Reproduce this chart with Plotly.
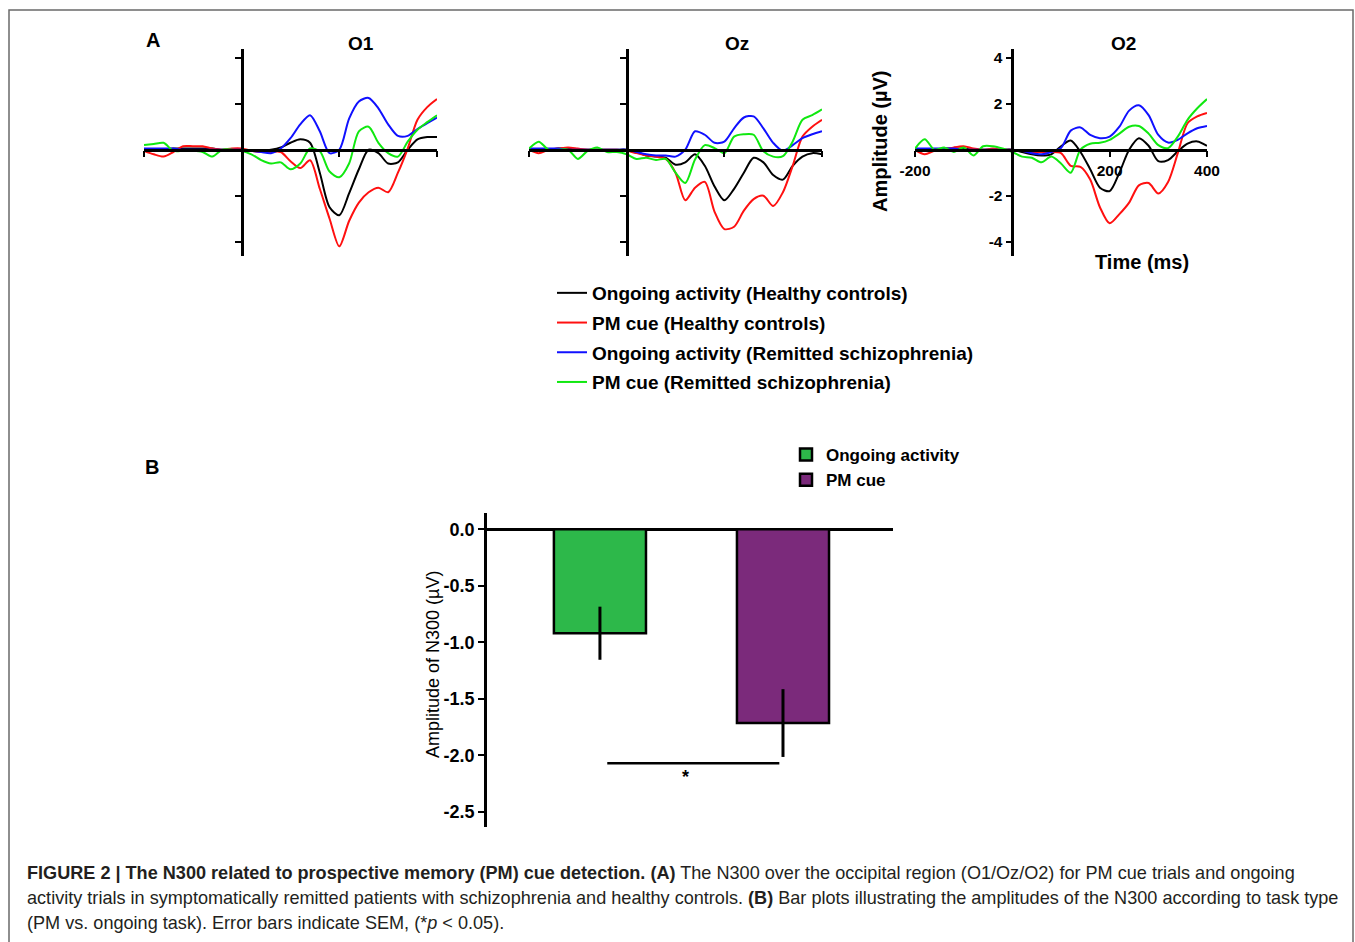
import plotly.graph_objects as go

W, H = 1355, 942

# ---------------- data ----------------
time_ms = [-200, -180, -160, -140, -120, -100, -80, -60, -40, -20, 0, 20, 40, 60, 80,
           100, 120, 140, 160, 180, 200, 220, 240, 260, 280, 300, 320, 340, 360, 380, 400]

o1_ongoing_hc = [-0.05, -0.05, 0.0, 0.05, 0.05, 0.05, 0.05, 0.05, 0.0, 0.0, 0.0, -0.05, -0.05, 0.0, 0.1,
                 0.3, 0.45, 0.3, -1.0, -2.5, -2.85, -1.9, -0.85, 0.0, -0.15, -0.6, -0.55, 0.0, 0.45, 0.55, 0.55]
o1_pm_hc = [-0.05, -0.2, -0.3, -0.1, 0.15, 0.15, 0.15, 0.05, 0.0, 0.05, 0.05, -0.05, -0.1, -0.1, -0.1,
            -0.5, -0.8, -0.46, -1.7, -3.0, -4.2, -3.1, -2.3, -1.85, -1.65, -1.85, -1.0, 0.05, 1.3, 1.85, 2.2]
o1_ongoing_sz = [0.05, 0.05, 0.05, 0.05, 0.0, 0.0, 0.0, 0.0, 0.0, 0.0, 0.0, -0.05, -0.1, -0.15, 0.05,
                 0.5, 1.1, 1.5, 0.8, -0.15, 0.0, 1.35, 2.1, 2.25, 1.8, 1.1, 0.6, 0.6, 0.9, 1.15, 1.4]
o1_pm_sz = [0.2, 0.25, 0.3, -0.05, -0.05, -0.05, -0.1, -0.3, 0.0, 0.0, -0.05, -0.2, -0.45, -0.6, -0.55,
            -0.85, -0.6, 0.05, -0.07, -0.95, -1.2, -0.6, 0.8, 1.0, 0.3, -0.15, -0.3, 0.35, 0.87, 1.2, 1.5]

oz_ongoing_hc = [0.0, 0.0, 0.0, 0.05, 0.05, 0.0, 0.0, 0.0, 0.0, 0.0, 0.0, -0.1, -0.25, -0.3, -0.35,
                 -0.65, -0.55, -0.2, -0.7, -1.6, -2.2, -1.7, -1.0, -0.35, -0.55, -1.1, -1.3, -0.7, -0.3, -0.15, -0.2]
oz_pm_hc = [0.0, -0.15, 0.0, 0.05, 0.1, 0.05, 0.0, 0.0, 0.0, 0.0, -0.05, -0.15, -0.25, -0.3, -0.4,
            -1.0, -2.2, -1.65, -1.4, -2.7, -3.45, -3.35, -2.65, -2.15, -2.0, -2.45, -1.85, -0.7, 0.57, 1.0, 1.3]
oz_ongoing_sz = [0.05, 0.05, 0.05, 0.05, 0.0, 0.0, 0.0, 0.0, 0.0, 0.0, 0.0, -0.1, -0.2, -0.25, -0.25,
                 -0.3, 0.0, 0.8, 0.65, 0.3, 0.35, 0.93, 1.4, 1.45, 0.93, 0.3, -0.05, 0.2, 0.5, 0.67, 0.8]
oz_pm_sz = [0.05, 0.35, 0.0, 0.0, 0.0, -0.4, -0.05, 0.1, -0.1, -0.1, -0.2, -0.4, -0.35, -0.45, -0.4,
            -1.0, -1.45, -0.43, 0.2, 0.07, -0.15, 0.57, 0.67, 0.65, -0.07, -0.3, -0.28, 0.36, 1.3, 1.5, 1.75]

o2_ongoing_hc = [0.05, 0.0, 0.0, 0.05, 0.05, 0.05, 0.0, 0.0, 0.0, 0.0, 0.0, -0.1, -0.2, -0.25, -0.2,
                 0.15, 0.4, -0.1, -0.85, -1.65, -1.8, -1.0, 0.0, 0.5, 0.17, -0.5, -0.45, -0.07, 0.26, 0.36, 0.17]
o2_pm_hc = [0.0, -0.2, -0.05, 0.0, 0.1, 0.15, 0.05, 0.0, 0.05, 0.0, 0.0, -0.05, -0.1, -0.1, -0.1,
            -0.15, -0.7, -0.75, -1.3, -2.5, -3.2, -2.8, -2.3, -1.55, -1.45, -1.9, -1.4, -0.15, 1.15, 1.45, 1.6]
o2_ongoing_sz = [0.05, 0.05, 0.05, 0.05, 0.05, 0.0, 0.0, 0.0, 0.0, 0.0, 0.0, -0.05, -0.15, -0.2, -0.1,
                 0.07, 0.83, 0.97, 0.64, 0.5, 0.57, 1.0, 1.7, 1.93, 1.5, 0.64, 0.31, 0.43, 0.71, 0.93, 1.03]
o2_pm_sz = [0.05, 0.45, 0.0, 0.1, -0.1, 0.1, -0.25, 0.15, 0.15, 0.05, -0.1, -0.3, -0.35, -0.55, -0.3,
            -0.6, -1.0, 0.0, 0.26, 0.3, 0.43, 0.7, 1.0, 1.03, 0.7, 0.2, 0.07, 0.57, 1.3, 1.8, 2.2]

electrodes = ["O1", "Oz", "O2"]
series_names = ["Ongoing activity (Healthy controls)", "PM cue (Healthy controls)",
                "Ongoing activity (Remitted schizophrenia)", "PM cue (Remitted schizophrenia)"]
series_colors = ["#000000", "#ff1010", "#1010ff", "#10e810"]
erp_data = {
    "O1": [o1_ongoing_hc, o1_pm_hc, o1_ongoing_sz, o1_pm_sz],
    "Oz": [oz_ongoing_hc, oz_pm_hc, oz_ongoing_sz, oz_pm_sz],
    "O2": [o2_ongoing_hc, o2_pm_hc, o2_ongoing_sz, o2_pm_sz],
}
time_ticks = [-200, 200, 400]
amp_ticks = [-4, -2, 2, 4]

conditions = ["Ongoing activity", "PM cue"]
n300_mean = [-0.92, -1.715]
n300_sem = [0.235, 0.30]
bar_colors = ["#2db84a", "#7b2a7b"]
bar_ticks = [0.0, -0.5, -1.0, -1.5, -2.0, -2.5]
sig_x = [0.04, 0.98]
sig_y = -2.07

caption_lines = [
    "<b>FIGURE 2 | The N300 related to prospective memory (PM) cue detection. (A)</b> The N300 over the occipital region (O1/Oz/O2) for PM cue trials and ongoing",
    "activity trials in symptomatically remitted patients with schizophrenia and healthy controls. <b>(B)</b> Bar plots illustrating the amplitudes of the N300 according to task type",
    "(PM vs. ongoing task). Error bars indicate SEM, (*<i>p</i> &lt; 0.05).",
]

# ---------------- layout helpers ----------------
FONT = "Liberation Sans, Arial, sans-serif"


def px(x):
    return x / W


def py(y):
    return 1 - y / H


erp_x_px = [(144, 437), (529, 822), (915, 1207)]
erp_y_px = (48.5, 255.5)
time_range = [-200, 400]
amp_range = [-4.6, 4.4]

fig = go.Figure()
layout = dict(
    width=W, height=H, margin=dict(l=0, r=0, t=0, b=0, autoexpand=False),
    paper_bgcolor="white", plot_bgcolor="rgba(0,0,0,0)",
    font=dict(family=FONT, color="black"),
    barmode="overlay",
    showlegend=True,
)

yd0, yd1 = py(erp_y_px[1]), py(erp_y_px[0])
for i, el in enumerate(electrodes):
    k = "" if i == 0 else str(i + 1)
    xd0, xd1 = px(erp_x_px[i][0]), px(erp_x_px[i][1])
    zero_y = yd0 + (0 - amp_range[0]) / (amp_range[1] - amp_range[0]) * (yd1 - yd0)
    zero_x = xd0 + (0 - time_range[0]) / (time_range[1] - time_range[0]) * (xd1 - xd0)
    labels = (i == 2)
    layout["xaxis" + k] = dict(
        domain=[xd0, xd1], range=time_range, anchor="free", position=zero_y,
        showline=True, linecolor="black", linewidth=2.5, ticks="outside", ticklen=6,
        tickwidth=2, tickcolor="black", tickvals=time_ticks, ticktext=[str(v) for v in time_ticks],
        showticklabels=labels, tickfont=dict(size=15.5, weight="bold"),
        showgrid=False, zeroline=False, fixedrange=True, automargin=False,
    )
    layout["yaxis" + k] = dict(
        domain=[yd0, yd1], range=amp_range, anchor="free", position=zero_x,
        showline=True, linecolor="black", linewidth=2.5, ticks="outside", ticklen=6,
        tickwidth=2, tickcolor="black", tickvals=amp_ticks, ticktext=[str(v) for v in amp_ticks],
        showticklabels=labels, tickfont=dict(size=15.5, weight="bold"),
        showgrid=False, zeroline=False, fixedrange=True, automargin=False,
    )
    for j, name in enumerate(series_names):
        fig.add_trace(go.Scatter(
            x=time_ms, y=erp_data[el][j], mode="lines", name=name,
            line=dict(color=series_colors[j], width=2, shape="spline", smoothing=0.8),
            xaxis="x" + k, yaxis="y" + k, legendgroup=name, showlegend=(i == 0),
            legend="legend", hoverinfo="skip",
        ))

# bar chart axes
bar_x_range = [-0.617, 1.601]
bar_y_range = [-2.635, 0.144]
layout["xaxis4"] = dict(domain=[px(487), px(893)], range=bar_x_range, anchor="y4",
                        visible=False, fixedrange=True)
layout["yaxis4"] = dict(
    domain=[py(827), py(513)], range=bar_y_range, anchor="x4",
    showline=True, linecolor="black", linewidth=2.5, ticks="outside", ticklen=6,
    tickwidth=2, tickcolor="black", tickvals=bar_ticks, ticktext=[f"{v:.1f}" for v in bar_ticks],
    tickfont=dict(size=18, weight="bold"), showgrid=False,
    zeroline=True, zerolinecolor="black", zerolinewidth=2.5, fixedrange=True, automargin=False,
)
for c, cond in enumerate(conditions):
    fig.add_trace(go.Bar(
        x=[c], y=[n300_mean[c]], width=0.503, name=cond,
        marker=dict(color=bar_colors[c], line=dict(color="black", width=2.5)),
        error_y=dict(type="data", array=[n300_sem[c]], width=0, thickness=3, color="black"),
        xaxis="x4", yaxis="y4", legend="legend2", hoverinfo="skip",
    ))
fig.add_trace(go.Scatter(
    x=sig_x, y=[sig_y, sig_y], mode="lines", line=dict(color="black", width=2.5),
    xaxis="x4", yaxis="y4", showlegend=False, hoverinfo="skip",
))

layout["legend"] = dict(
    x=px(552), y=py(274), xanchor="left", yanchor="top",
    font=dict(size=19, weight="bold", family=FONT), bgcolor="rgba(0,0,0,0)",
    traceorder="grouped", tracegroupgap=2, itemwidth=30,
)
layout["legend2"] = dict(
    x=px(786), y=py(437), xanchor="left", yanchor="top",
    font=dict(size=17, weight="bold", family=FONT), bgcolor="rgba(0,0,0,0)",
    tracegroupgap=0, itemwidth=30,
)

annotations = []


def ann(text, x, y, size, bold=True, angle=0, xanchor="center", **kw):
    d = dict(text=text, x=px(x), y=py(y), xref="paper", yref="paper", showarrow=False,
             xanchor=xanchor, yanchor="middle", textangle=angle,
             font=dict(size=size, family=FONT, color=kw.pop("color", "black"),
                       weight="bold" if bold else "normal"))
    d.update(kw)
    annotations.append(d)


ann("A", 153, 40, 20)
ann("B", 152, 467, 20)
for el, xc in zip(electrodes, [361, 737, 1123]):
    ann(el, xc, 44, 19)
ann("Amplitude (µV)", 880, 141, 20, angle=-90)
ann("Time (ms)", 1142, 262, 20)
ann("Amplitude of N300 (µV)", 433, 665, 18, bold=False, angle=-90)
annotations.append(dict(text="<b>*</b>", x=0.47, y=-2.19, xref="x4", yref="y4", showarrow=False,
                        font=dict(size=18, family=FONT, color="black")))
for n, line in enumerate(caption_lines):
    ann(line, 25, 873 + 25 * n, 18.1, bold=False, xanchor="left", color="#231f20")
layout["annotations"] = annotations

layout["shapes"] = [dict(type="rect", xref="paper", yref="paper",
                         x0=px(9), x1=px(1353), y0=py(960), y1=py(10),
                         line=dict(color="#6a6a6a", width=1.5), fillcolor="rgba(0,0,0,0)")]

fig.update_layout(**layout)
fig.write_html("out.html", config={"displayModeBar": False},
               post_script="document.body.style.margin='0';document.body.style.overflow='hidden';")
